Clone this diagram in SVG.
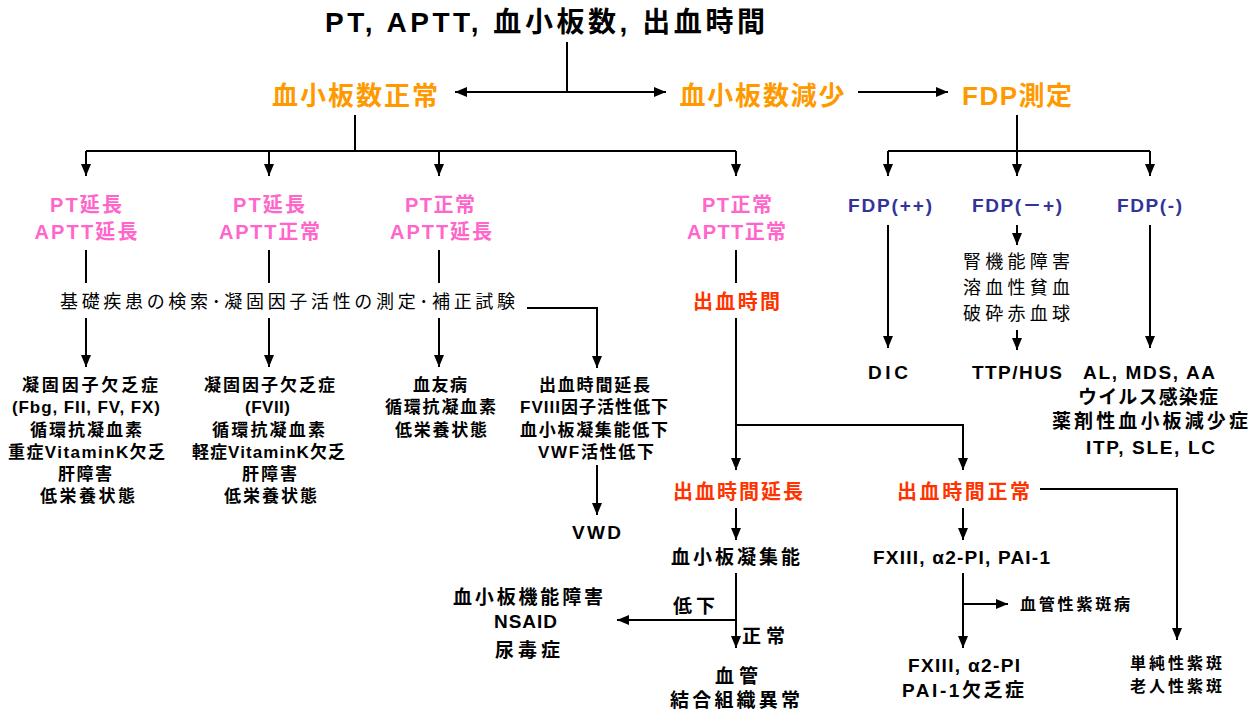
<svg xmlns="http://www.w3.org/2000/svg" width="1258" height="712" viewBox="0 0 1258 712">
<style>
text{font-family:"Liberation Sans","Noto Sans CJK JP",sans-serif;font-weight:bold;text-anchor:middle}
.t{font-size:28px;fill:#000}
.o{font-size:26px;fill:#FF9900}
.p{font-size:20px;fill:#FF66CC}
.r{font-size:20px;fill:#FF3300}
.b{font-size:19px;fill:#333399}
.k{font-size:17px;fill:#000}
.k2{font-size:19px;fill:#000}
.n{font-size:18px;fill:#000;font-weight:normal}
.s{font-size:16px;fill:#000}
.c line,.c polyline{stroke:#000;stroke-width:2;fill:none}
</style>
<defs>
<marker id="a" markerUnits="userSpaceOnUse" markerWidth="12" markerHeight="14" refX="12" refY="6" orient="auto-start-reverse" viewBox="0 0 12 12">
<path d="M0,1 L12,6 L0,11 Z" fill="#000"/>
</marker>
</defs>
<g class="c" id="connectors">
<line x1="567" y1="42" x2="567" y2="92"/>
<line x1="455" y1="92" x2="666" y2="92" marker-start="url(#a)" marker-end="url(#a)"/>
<line x1="858" y1="92" x2="948" y2="92" marker-end="url(#a)"/>
<line x1="355" y1="115" x2="355" y2="151"/>
<line x1="86" y1="151" x2="736" y2="151"/>
<line x1="86" y1="151" x2="86" y2="176" marker-end="url(#a)"/>
<line x1="269" y1="151" x2="269" y2="176" marker-end="url(#a)"/>
<line x1="439" y1="151" x2="439" y2="176" marker-end="url(#a)"/>
<line x1="736" y1="151" x2="736" y2="176" marker-end="url(#a)"/>
<line x1="1017" y1="115" x2="1017" y2="151"/>
<line x1="888" y1="151" x2="1150" y2="151"/>
<line x1="888" y1="151" x2="888" y2="176" marker-end="url(#a)"/>
<line x1="1017" y1="151" x2="1017" y2="176" marker-end="url(#a)"/>
<line x1="1150" y1="151" x2="1150" y2="176" marker-end="url(#a)"/>
<line x1="86" y1="250" x2="86" y2="283"/>
<line x1="269" y1="250" x2="269" y2="283"/>
<line x1="439" y1="250" x2="439" y2="283"/>
<line x1="736" y1="250" x2="736" y2="283"/>
<line x1="86" y1="318" x2="86" y2="367" marker-end="url(#a)"/>
<line x1="269" y1="318" x2="269" y2="367" marker-end="url(#a)"/>
<line x1="439" y1="318" x2="439" y2="367" marker-end="url(#a)"/>
<polyline points="527,308 597,308 597,368" marker-end="url(#a)"/>
<line x1="597" y1="465" x2="597" y2="515" marker-end="url(#a)"/>
<line x1="736" y1="318" x2="736" y2="470" marker-end="url(#a)"/>
<polyline points="736,425 963,425 963,470" marker-end="url(#a)"/>
<line x1="736" y1="508" x2="736" y2="540" marker-end="url(#a)"/>
<line x1="963" y1="508" x2="963" y2="540" marker-end="url(#a)"/>
<line x1="736" y1="573" x2="736" y2="648" marker-end="url(#a)"/>
<line x1="736" y1="620" x2="617" y2="620" marker-end="url(#a)"/>
<line x1="963" y1="573" x2="963" y2="648" marker-end="url(#a)"/>
<line x1="963" y1="604" x2="1008" y2="604" marker-end="url(#a)"/>
<polyline points="1040,489 1177,489 1177,640" marker-end="url(#a)"/>
<line x1="888" y1="225" x2="888" y2="348" marker-end="url(#a)"/>
<line x1="1017" y1="225" x2="1017" y2="245" marker-end="url(#a)"/>
<line x1="1017" y1="330" x2="1017" y2="350" marker-end="url(#a)"/>
<line x1="1150" y1="225" x2="1150" y2="348" marker-end="url(#a)"/>
</g>
<g id="title"><text class="t" x="545" y="32" textLength="440" lengthAdjust="spacing">PT, APTT, 血小板数, 出血時間</text></g>
<g id="plt-normal"><text class="o" x="355" y="105" textLength="166" lengthAdjust="spacing">血小板数正常</text></g>
<g id="plt-low"><text class="o" x="762" y="105" textLength="165" lengthAdjust="spacing">血小板数減少</text></g>
<g id="fdp"><text class="o" x="1017" y="105" textLength="110" lengthAdjust="spacing">FDP測定</text></g>
<g id="pt1"><text class="p" x="86" y="212" textLength="72" lengthAdjust="spacing">PT延長</text><text class="p" x="86" y="239" textLength="103" lengthAdjust="spacing">APTT延長</text></g>
<g id="pt2"><text class="p" x="269" y="212" textLength="72" lengthAdjust="spacing">PT延長</text><text class="p" x="269.5" y="239" textLength="101" lengthAdjust="spacing">APTT正常</text></g>
<g id="pt3"><text class="p" x="440" y="212" textLength="70" lengthAdjust="spacing">PT正常</text><text class="p" x="441" y="239" textLength="102" lengthAdjust="spacing">APTT延長</text></g>
<g id="pt4"><text class="p" x="737" y="212" textLength="70" lengthAdjust="spacing">PT正常</text><text class="p" x="736.5" y="239" textLength="99" lengthAdjust="spacing">APTT正常</text></g>
<g id="search"><text class="n" x="287.5" y="308" textLength="455" lengthAdjust="spacing">基礎疾患の検索･凝固因子活性の測定･補正試験</text></g>
<g id="bt"><text class="r" x="736.5" y="309" textLength="87" lengthAdjust="spacing">出血時間</text></g>
<g id="col1">
<text class="k" x="90" y="391" textLength="136" lengthAdjust="spacing">凝固因子欠乏症</text>
<text class="k" x="86" y="413" textLength="148" lengthAdjust="spacing">(Fbg, FII, FV, FX)</text>
<text class="k" x="86" y="436" textLength="112" lengthAdjust="spacing">循環抗凝血素</text>
<text class="k" x="86.5" y="458" textLength="157" lengthAdjust="spacing">重症VitaminK欠乏</text>
<text class="k" x="85" y="480" textLength="54" lengthAdjust="spacing">肝障害</text>
<text class="k" x="87.5" y="502" textLength="95" lengthAdjust="spacing">低栄養状態</text>
</g>
<g id="col2">
<text class="k" x="269.5" y="391" textLength="131" lengthAdjust="spacing">凝固因子欠乏症</text>
<text class="k" x="267.5" y="413" textLength="45" lengthAdjust="spacing">(FVII)</text>
<text class="k" x="268.5" y="436" textLength="113" lengthAdjust="spacing">循環抗凝血素</text>
<text class="k" x="268.5" y="458" textLength="153" lengthAdjust="spacing">軽症VitaminK欠乏</text>
<text class="k" x="269.5" y="480" textLength="55" lengthAdjust="spacing">肝障害</text>
<text class="k" x="270.5" y="502" textLength="93" lengthAdjust="spacing">低栄養状態</text>
</g>
<g id="col3">
<text class="k" x="440" y="391" textLength="54" lengthAdjust="spacing">血友病</text>
<text class="k" x="440.5" y="413" textLength="111" lengthAdjust="spacing">循環抗凝血素</text>
<text class="k" x="441" y="436" textLength="92" lengthAdjust="spacing">低栄養状態</text>
</g>
<g id="col4">
<text class="k" x="594.5" y="391" textLength="111" lengthAdjust="spacing">出血時間延長</text>
<text class="k" x="594" y="413" textLength="148" lengthAdjust="spacing">FVIII因子活性低下</text>
<text class="k" x="594" y="436" textLength="148" lengthAdjust="spacing">血小板凝集能低下</text>
<text class="k" x="596" y="458" textLength="116" lengthAdjust="spacing">VWF活性低下</text>
</g>
<g id="vwd"><text class="k2" x="596.5" y="539" textLength="49" lengthAdjust="spacing">VWD</text></g>
<g id="bt-long"><text class="r" x="738" y="499" textLength="130" lengthAdjust="spacing">出血時間延長</text></g>
<g id="bt-normal"><text class="r" x="963.5" y="499" textLength="133" lengthAdjust="spacing">出血時間正常</text></g>
<g id="aggr"><text class="k2" x="735.5" y="564" textLength="129" lengthAdjust="spacing">血小板凝集能</text></g>
<g id="lbl-low"><text class="k2" x="694" y="613" textLength="42" lengthAdjust="spacing">低下</text></g>
<g id="lbl-norm"><text class="k2" x="763.5" y="643" textLength="43" lengthAdjust="spacing">正常</text></g>
<g id="plt-dys">
<text class="k2" x="528" y="604" textLength="150" lengthAdjust="spacing">血小板機能障害</text>
<text class="k2" x="525.5" y="628" textLength="63" lengthAdjust="spacing">NSAID</text>
<text class="k2" x="527.5" y="657" textLength="65" lengthAdjust="spacing">尿毒症</text>
</g>
<g id="vessel">
<text class="k2" x="736.5" y="683" textLength="43" lengthAdjust="spacing">血管</text>
<text class="k2" x="735" y="707" textLength="130" lengthAdjust="spacing">結合組織異常</text>
</g>
<g id="fxiii"><text class="k2" x="961.5" y="564" textLength="177" lengthAdjust="spacing">FXIII, α2-PI, PAI-1</text></g>
<g id="vasc-purp"><text class="s" x="1075" y="610" textLength="110" lengthAdjust="spacing">血管性紫斑病</text></g>
<g id="fxiii-def">
<text class="k2" x="964" y="672" textLength="112" lengthAdjust="spacing">FXIII, α2-PI</text>
<text class="k2" x="963" y="697" textLength="122" lengthAdjust="spacing">PAI-1欠乏症</text>
</g>
<g id="simple-purp">
<text class="s" x="1176" y="669" textLength="92" lengthAdjust="spacing">単純性紫斑</text>
<text class="s" x="1176" y="692" textLength="92" lengthAdjust="spacing">老人性紫斑</text>
</g>
<g id="fdp-pp"><text class="b" x="890" y="212" textLength="84" lengthAdjust="spacing">FDP(++)</text></g>
<g id="fdp-mp"><text class="b" x="1017" y="212" textLength="90" lengthAdjust="spacing">FDP(－+)</text></g>
<g id="fdp-m"><text class="b" x="1149.5" y="212" textLength="65" lengthAdjust="spacing">FDP(-)</text></g>
<g id="renal">
<text class="n" x="1016.5" y="268" textLength="107" lengthAdjust="spacing">腎機能障害</text>
<text class="n" x="1016.5" y="294" textLength="107" lengthAdjust="spacing">溶血性貧血</text>
<text class="n" x="1016.5" y="320" textLength="107" lengthAdjust="spacing">破砕赤血球</text>
</g>
<g id="dic"><text class="k2" x="888" y="379" textLength="40" lengthAdjust="spacing">DIC</text></g>
<g id="ttp"><text class="k2" x="1017" y="379" textLength="90" lengthAdjust="spacing">TTP/HUS</text></g>
<g id="fdp-neg">
<text class="k2" x="1149" y="379" textLength="132" lengthAdjust="spacing">AL, MDS, AA</text>
<text class="k2" x="1148" y="404" textLength="140" lengthAdjust="spacing">ウイルス感染症</text>
<text class="k2" x="1150" y="428" textLength="196" lengthAdjust="spacing">薬剤性血小板減少症</text>
<text class="k2" x="1150.5" y="454" textLength="129" lengthAdjust="spacing">ITP, SLE, LC</text>
</g>
</svg>
